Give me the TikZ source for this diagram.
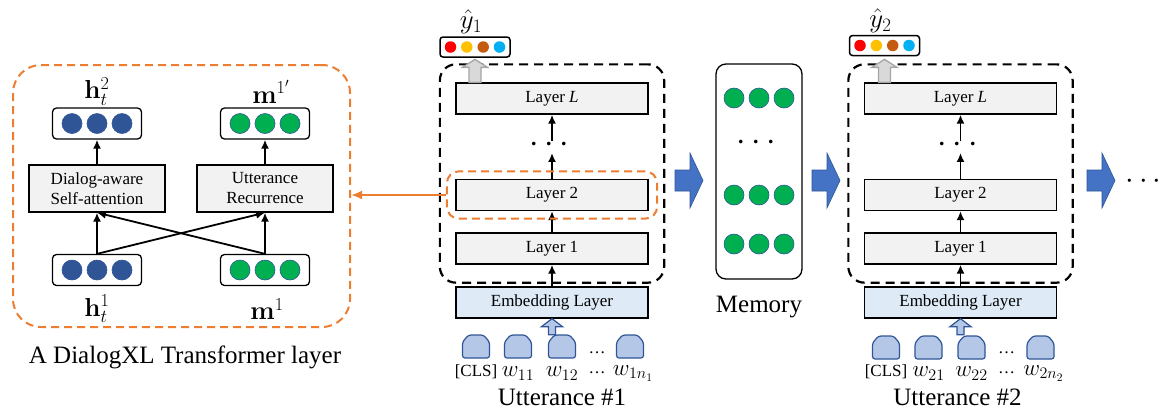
\RequirePackage{fix-cm}
\documentclass[tikz,border=0pt]{standalone}
\usepackage[no-math]{fontspec}
\setmainfont{Liberation Serif}
\usepackage{amsmath}
\usetikzlibrary{arrows.meta,calc,fit}
\definecolor{dxlorange}{HTML}{ED7D31}
\definecolor{dxlblue}{HTML}{4472C4}
\definecolor{darkblue}{HTML}{2F5597}
\definecolor{dxlgreen}{HTML}{00B050}
\definecolor{layergray}{HTML}{F2F2F2}
\definecolor{embblue}{HTML}{DEEBF7}
\definecolor{tokblue}{HTML}{B4C7E7}
\definecolor{predred}{HTML}{FF0000}
\definecolor{predyellow}{HTML}{FFC000}
\definecolor{predbrown}{HTML}{C55A11}
\definecolor{predcyan}{HTML}{00B0F0}
\definecolor{arrgray}{HTML}{D9D9D9}
\definecolor{arrgrayedge}{HTML}{A5A5A5}
\tikzset{
    layer/.style = {draw, rectangle, fill=layergray, line width=1.3pt,
        minimum height=31pt, minimum width=192pt,
        font=\fontsize{17}{20}\selectfont},
    embed/.style = {layer, fill=embblue},
    block/.style = {draw, rectangle, fill=layergray, line width=1.3pt,
        minimum height=47pt, minimum width=136pt, align=center,
        font=\fontsize{17}{20}\selectfont},
    vecbox/.style = {draw, rounded corners=4pt, line width=1.3pt,
        minimum width=89pt, minimum height=31pt},
    predbox/.style = {draw, rounded corners=3pt, line width=1.5pt,
        minimum width=70pt, minimum height=20pt},
    hdot/.style = {circle, fill=darkblue, draw=darkblue, line width=0.6pt,
        minimum size=20pt, inner sep=0pt},
    mdot/.style = {hdot, fill=dxlgreen},
    pdot/.style = {circle, fill=#1, minimum size=11.5pt, inner sep=0pt},
    tokshape/.style = {draw=darkblue, fill=tokblue, line width=1.2pt, rounded corners=2.5pt},
    blackdash/.style = {draw, dash pattern=on 9pt off 6pt, line width=2.2pt, rounded corners=16pt},
    orangedash/.style = {draw=dxlorange, dash pattern=on 8pt off 5pt, line width=2pt, rounded corners=12pt},
    paneldash/.style = {orangedash, rounded corners=28pt},
    flow/.style = {->, line width=1.8pt},
    hlarrow/.style = {draw=dxlorange, line width=2pt, -{Latex[length=11pt,width=9pt]}},
    bigarr/.style = {fill=dxlblue, draw=darkblue, line width=0.6pt},
    grayarr/.style = {fill=arrgray, draw=arrgrayedge, line width=1.3pt},
    tokarr/.style = {fill=tokblue, draw=darkblue, line width=1.2pt},
    vlab/.style = {font=\fontsize{26}{30}\selectfont},
    biglab/.style = {font=\fontsize{25}{30}\selectfont},
    toklab/.style = {font=\fontsize{17}{20}\selectfont},
    wlab/.style = {font=\fontsize{23}{26}\selectfont},
    ylab/.style = {font=\fontsize{27}{30}\selectfont, inner sep=1pt},
    dotlab/.style = {font=\fontsize{34}{36}\selectfont, inner sep=0pt,
        text height=11.5pt, text depth=-4.5pt}
}
\newcommand{\threedots}[2]{%
    \node [#2] (#1-a) at ($(#1)+(-25,0)$) {};
    \node [#2] (#1-b) at (#1) {};
    \node [#2] (#1-c) at ($(#1)+(25,0)$) {};}
\newcommand{\preddots}[1]{%
    \node [pdot=predred] (#1-r) at ($(#1)+(-24.5,0)$) {};
    \node [pdot=predyellow] (#1-y) at ($(#1)+(-8.2,0)$) {};
    \node [pdot=predbrown] (#1-o) at ($(#1)+(8.2,0)$) {};
    \node [pdot=predcyan] (#1-c) at ($(#1)+(24.5,0)$) {};}
\newcommand{\tok}[1]{\draw [tokshape] ($(#1)+(0,11.5)$) \tokcap;}
\def\tokcap{%
    -- +(-13.5,0) -- +(-13.5,-16) -- +(-7.5,-23) -- +(7.5,-23) -- +(13.5,-16) -- +(13.5,0) -- cycle
}
\def\blockarrow{%
    -- +(0,-10.5) -- +(15,-10.5) -- +(15,-27.5) -- +(28,0) -- +(15,27.5) -- +(15,10.5) -- +(0,10.5) -- cycle
}
\def\outup{%
    -- +(-6,0) -- +(-6,-15) -- +(-12.5,-15) -- +(0,-23) -- +(12.5,-15) -- +(6,-15) -- +(6,0) -- cycle
}
\def\inup{%
    -- +(-3.5,0) -- +(-3.5,-8) -- +(-10.5,-8) -- +(0,-16) -- +(10.5,-8) -- +(3.5,-8) -- +(3.5,0) -- cycle
}
\begin{document}
\begin{tikzpicture}[x=1pt, y=-1pt, >={Latex[length=9pt,width=8pt]}]
        \useasboundingbox (0,0) rectangle (1167,416);
        % one DialogXL layer
        \node [vecbox] (h1) at (97,270) {};
        \node [vecbox, right of=h1, node distance=168pt] (m1) {};
        \node [block, above of=h1, node distance=81.5pt] (dsa) {Dialog-aware\\Self-attention};
        \node [block, above of=m1, node distance=81.5pt] (urec) {Utterance\\Recurrence};
        \node [vecbox, above of=dsa, node distance=65pt] (h2) {};
        \node [vecbox, above of=urec, node distance=65pt] (m2) {};
        \threedots{h1}{hdot} \threedots{h2}{hdot}
        \threedots{m1}{mdot} \threedots{m2}{mdot}
        \node [vlab, above of=h2, node distance=32pt] (h2lab) {$\mathbf{h}_t^2$};
        \node [vlab, above of=m2, node distance=32pt, xshift=6pt] (m2lab) {$\mathbf{m}^{1'}$};
        \node [vlab, below of=h1, node distance=39pt] (h1lab) {$\mathbf{h}_t^1$};
        \node [vlab, below of=m1, node distance=39pt, xshift=2pt] (m1lab) {$\mathbf{m}^1$};
        \draw [flow] (h1.north) -- (dsa.south);
        \draw [flow] (h1.north) -- (urec.south);
        \draw [flow] (m1.north) -- (urec.south);
        \draw [flow] (m1.north) -- (dsa.south);
        \draw [flow] (dsa) -- (h2);
        \draw [flow] (urec) -- (m2);
        \node [paneldash, minimum width=337pt, minimum height=262pt] (dxl) at (181.5,196) {};
        \node [biglab] (dxlcap) at (185,357) {A DialogXL Transformer layer};
        % utterance #1
        \node [layer] (aL) at (552,98.5) {Layer \textit{L}};
        \node [dotlab, below of=aL, node distance=48.5pt] (adots) {$\cdots$};
        \node [layer, below of=adots, node distance=48pt] (a2) {Layer 2};
        \node [layer, below of=a2, node distance=53.5pt] (a1) {Layer 1};
        \node [embed, below of=a1, node distance=54pt] (aemb) {Embedding Layer};
        \draw [flow] (aemb) -- (a1);
        \draw [flow] (a1) -- (a2);
        \draw [flow] (a2) -- (adots);
        \draw [flow] (adots) -- (aL);
        \node [blackdash, fit=(aL)(a1), inner xsep=15.5pt, inner ysep=18pt] (aenc) {};
        \node [orangedash, fit=(a2), inner xsep=8.5pt, inner ysep=7.5pt] (a2hl) {};
        \draw [hlarrow] (a2hl.west) -- (a2hl.west -| dxl.east);
        \node [predbox, above of=aL, node distance=51.5pt, xshift=-77pt] (apred) {};
        \preddots{apred}
        \node [ylab, above of=apred, node distance=25pt, xshift=-4pt] (ayhat) {$\hat{y}_1$};
        \draw [grayarr] (aL.north -| apred) \outup;
        \draw [tokarr] ($(aemb.south)+(0,16)$) \inup;
        \coordinate [below of=aemb, node distance=44pt, xshift=-76pt] (at0);
        \coordinate [below of=aemb, node distance=44pt, xshift=-34pt] (at1);
        \coordinate [below of=aemb, node distance=44pt, xshift=10pt] (at2);
        \coordinate [below of=aemb, node distance=44pt, xshift=78pt] (atn);
        \tok{at0} \tok{at1} \tok{at2} \tok{atn}
        \node [toklab, below of=at0, node distance=25pt] (at0l) {[CLS]};
        \node [wlab, below of=at1, node distance=27pt] (at1l) {$w_{11}$};
        \node [wlab, below of=at2, node distance=27pt] (at2l) {$w_{12}$};
        \node [wlab, below of=atn, node distance=27pt, xshift=3pt] (atnl) {$w_{1n_1}$};
        \node [toklab, below of=aemb, node distance=50pt, xshift=45pt] (adt1) {\dots};
        \node [toklab, below of=aemb, node distance=70pt, xshift=45pt] (adt2) {\dots};
        \node [biglab, below of=aemb, node distance=95pt, xshift=10pt] (autt) {Utterance \#1};
        % memory
        \node [draw, rounded corners=10pt, line width=1.3pt, minimum width=86pt, minimum height=215pt] (mem) at (759,171.5) {};
        \coordinate (mr1) at ($(mem)+(0,-73.5)$);
        \coordinate (mr2) at ($(mem)+(0,23.5)$);
        \coordinate (mr3) at ($(mem)+(0,72.5)$);
        \threedots{mr1}{mdot} \threedots{mr2}{mdot} \threedots{mr3}{mdot}
        \node [dotlab] (mdots) at ($(mem)+(0,-26.5)$) {$\cdots$};
        \node [biglab, below of=mem, node distance=135.5pt] (memlab) {Memory};
        \coordinate (ba1) at (675,180.5);
        \coordinate (ba2) at (812,180.5);
        \coordinate (ba3) at (1087,180.5);
        \draw [bigarr] (ba1) \blockarrow;
        \draw [bigarr] (ba2) \blockarrow;
        \draw [bigarr] (ba3) \blockarrow;
        \node [dotlab, font=\fontsize{31}{34}\selectfont] (more) at (1146,183) {$\cdots$};
        % utterance #2
        \node [layer] (bL) at (960.5,98.5) {Layer \textit{L}};
        \node [dotlab, below of=bL, node distance=48.5pt] (bdots) {$\cdots$};
        \node [layer, below of=bdots, node distance=48pt] (b2) {Layer 2};
        \node [layer, below of=b2, node distance=53.5pt] (b1) {Layer 1};
        \node [embed, below of=b1, node distance=54pt] (bemb) {Embedding Layer};
        \draw [flow] (bemb) -- (b1);
        \draw [flow] (b1) -- (b2);
        \draw [flow] (b2) -- (bdots);
        \draw [flow] (bdots) -- (bL);
        \node [blackdash, fit=(bL)(b1), inner xsep=15.5pt, inner ysep=18pt] (benc) {};
        \node [predbox, above of=bL, node distance=53pt, xshift=-76pt] (bpred) {};
        \preddots{bpred}
        \node [ylab, above of=bpred, node distance=25pt, xshift=-4pt] (byhat) {$\hat{y}_2$};
        \draw [grayarr] (bL.north -| bpred) \outup;
        \draw [tokarr] ($(bemb.south)+(0,16)$) \inup;
        \coordinate [below of=bemb, node distance=45pt, xshift=-74.5pt] (bt0);
        \coordinate [below of=bemb, node distance=45pt, xshift=-32pt] (bt1);
        \coordinate [below of=bemb, node distance=45pt, xshift=11pt] (bt2);
        \coordinate [below of=bemb, node distance=45pt, xshift=80pt] (btn);
        \tok{bt0} \tok{bt1} \tok{bt2} \tok{btn}
        \node [toklab, below of=bt0, node distance=24pt] (bt0l) {[CLS]};
        \node [wlab, below of=bt1, node distance=26pt] (bt1l) {$w_{21}$};
        \node [wlab, below of=bt2, node distance=26pt] (bt2l) {$w_{22}$};
        \node [wlab, below of=btn, node distance=26pt, xshift=3pt] (btnl) {$w_{2n_2}$};
        \node [toklab, below of=bemb, node distance=50pt, xshift=46pt] (bdt1) {\dots};
        \node [toklab, below of=bemb, node distance=70pt, xshift=46pt] (bdt2) {\dots};
        \node [biglab, below of=bemb, node distance=95pt, xshift=-3pt] (butt) {Utterance \#2};
    \end{tikzpicture}
\end{document}
